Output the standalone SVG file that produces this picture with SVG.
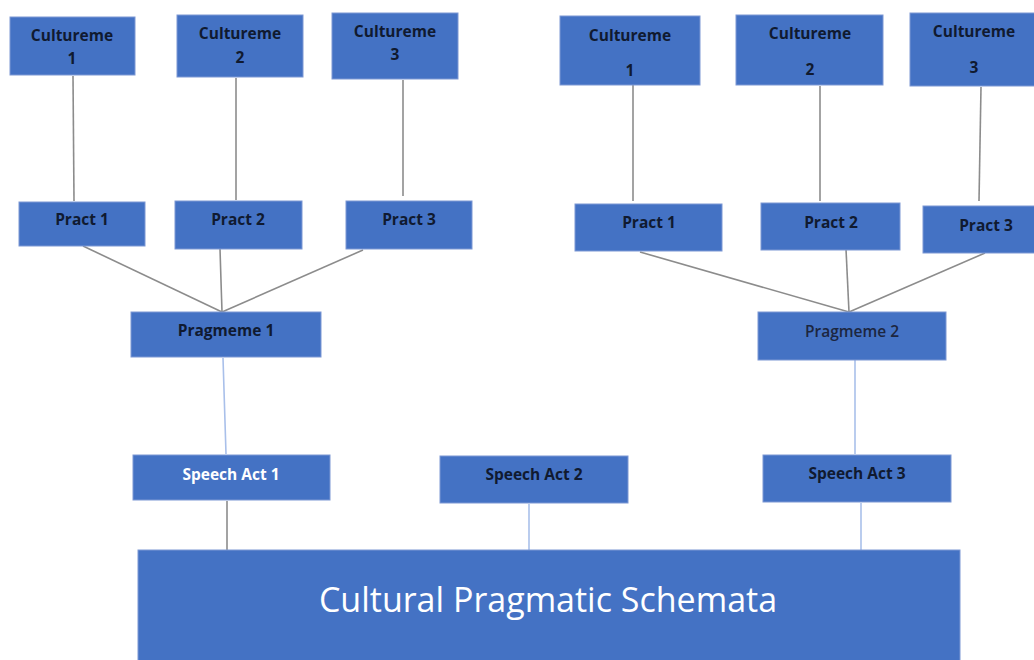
<svg xmlns="http://www.w3.org/2000/svg" width="1034" height="660" viewBox="0 0 1034 660">
<style>
.box{fill:#4472c4;stroke:#7c98d4;stroke-width:1}
.t{font-family:"Open Sans","Liberation Sans",sans-serif;font-size:15.5px;font-weight:bold;fill:#101a30;text-anchor:middle}
.w{fill:#ffffff}
.g{stroke:#8c8c8c;stroke-width:1.6;fill:none}
.b{stroke:#a9c0ea;stroke-width:1.6;fill:none}
.big{font-family:"Open Sans","Liberation Sans",sans-serif;font-size:34px;fill:#ffffff;text-anchor:middle}
</style>
<rect width="1034" height="660" fill="#ffffff"/>
<g id="connectors">
<line class="g" x1="73" y1="76" x2="74" y2="201"/>
<line class="g" x1="236" y1="78" x2="236" y2="200"/>
<line class="g" x1="403" y1="80" x2="403" y2="196"/>
<line class="g" x1="633" y1="84" x2="633" y2="201"/>
<line class="g" x1="820" y1="86" x2="820" y2="201"/>
<line class="g" x1="981" y1="87" x2="979" y2="201"/>
<line class="g" x1="83" y1="246" x2="222" y2="312"/>
<line class="g" x1="220" y1="249" x2="222" y2="312"/>
<line class="g" x1="363" y1="250" x2="222" y2="312"/>
<line class="g" x1="640" y1="252" x2="849" y2="312"/>
<line class="g" x1="846" y1="249" x2="849" y2="312"/>
<line class="g" x1="985" y1="253" x2="849" y2="312"/>
<line class="b" x1="223" y1="358" x2="226" y2="454"/>
<line class="b" x1="855" y1="360" x2="855" y2="454"/>
<line class="g" x1="227" y1="501" x2="227" y2="550"/>
<line class="b" x1="529" y1="504" x2="529" y2="550"/>
<line class="b" x1="861" y1="503" x2="861" y2="550"/>
</g>
<g id="cultureme-l1"><rect class="box" x="10" y="17" width="125" height="58"/><text class="t" x="72" y="41">Cultureme</text><text class="t" x="72" y="64">1</text></g>
<g id="cultureme-l2"><rect class="box" x="177" y="15" width="126" height="62"/><text class="t" x="240" y="39">Cultureme</text><text class="t" x="240" y="63">2</text></g>
<g id="cultureme-l3"><rect class="box" x="332" y="13" width="126" height="66"/><text class="t" x="395" y="37">Cultureme</text><text class="t" x="395" y="60">3</text></g>
<g id="cultureme-r1"><rect class="box" x="560" y="16" width="140" height="69"/><text class="t" x="630" y="41">Cultureme</text><text class="t" x="630" y="76">1</text></g>
<g id="cultureme-r2"><rect class="box" x="736" y="15" width="147" height="70"/><text class="t" x="810" y="39">Cultureme</text><text class="t" x="810" y="75">2</text></g>
<g id="cultureme-r3"><rect class="box" x="910" y="13" width="130" height="73"/><text class="t" x="974" y="37">Cultureme</text><text class="t" x="974" y="73">3</text></g>
<g id="pract-l1"><rect class="box" x="19" y="202" width="126" height="44"/><text class="t" x="82" y="225">Pract 1</text></g>
<g id="pract-l2"><rect class="box" x="175" y="201" width="127" height="48"/><text class="t" x="238" y="225">Pract 2</text></g>
<g id="pract-l3"><rect class="box" x="346" y="201" width="126" height="48"/><text class="t" x="409" y="225">Pract 3</text></g>
<g id="pract-r1"><rect class="box" x="575" y="204" width="147" height="47"/><text class="t" x="649" y="228">Pract 1</text></g>
<g id="pract-r2"><rect class="box" x="761" y="203" width="139" height="47"/><text class="t" x="831" y="228">Pract 2</text></g>
<g id="pract-r3"><rect class="box" x="923" y="206" width="115" height="47"/><text class="t" x="986" y="231">Pract 3</text></g>
<g id="pragmeme-1"><rect class="box" x="131" y="312" width="190" height="45"/><text class="t" x="226" y="336">Pragmeme 1</text></g>
<g id="pragmeme-2"><rect class="box" x="758" y="312" width="188" height="48"/><text class="t" x="852" y="337" style="font-weight:600;fill:#1c2640">Pragmeme 2</text></g>
<g id="speech-act-1"><rect class="box" x="133" y="455" width="197" height="45"/><text class="t w" x="231" y="480">Speech Act 1</text></g>
<g id="speech-act-2"><rect class="box" x="440" y="456" width="188" height="47"/><text class="t" x="534" y="480">Speech Act 2</text></g>
<g id="speech-act-3"><rect class="box" x="763" y="455" width="188" height="47"/><text class="t" x="857" y="479">Speech Act 3</text></g>
<g id="cultural-pragmatic-schemata"><rect class="box" x="138" y="550" width="822" height="115"/><text class="big" x="548" y="612">Cultural Pragmatic Schemata</text></g>
</svg>
